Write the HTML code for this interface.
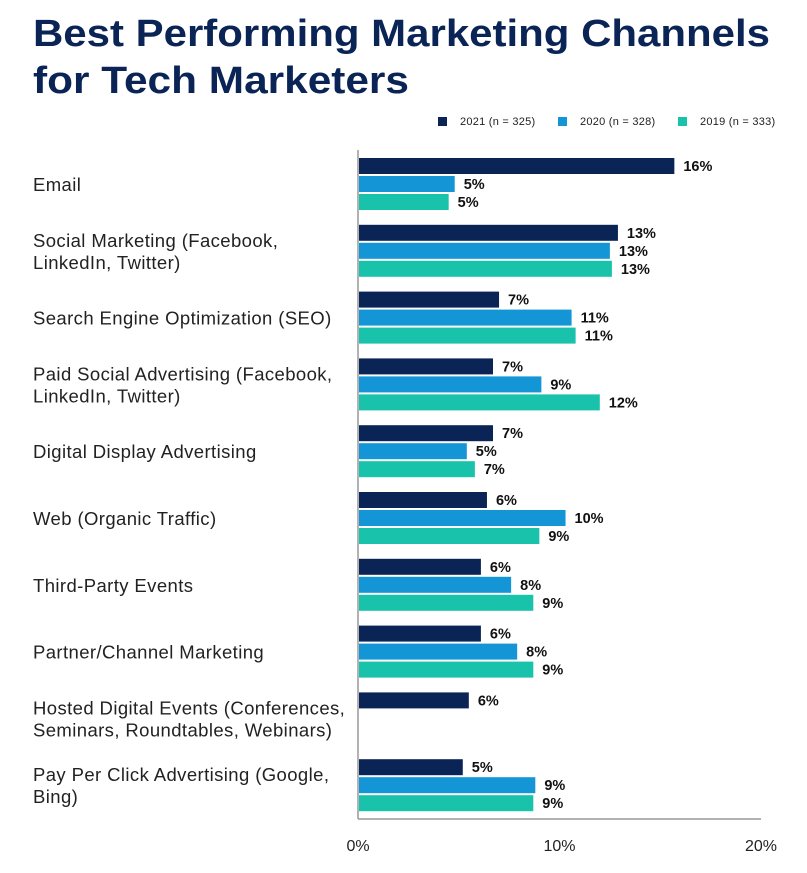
<!DOCTYPE html>
<html><head><meta charset="utf-8"><style>
body{margin:0;background:#fff;width:807px;height:868px;overflow:hidden;font-family:"Liberation Sans",sans-serif}
</style></head><body>
<svg id="c" width="807" height="868" xmlns="http://www.w3.org/2000/svg">
<text x="33" y="46" font-size="38" font-weight="bold" fill="#0b2456" textLength="737" lengthAdjust="spacingAndGlyphs">Best Performing Marketing Channels</text>
<text x="33" y="93" font-size="38" font-weight="bold" fill="#0b2456" textLength="376" lengthAdjust="spacingAndGlyphs">for Tech Marketers</text>
<g id="legend"></g>
<line x1="358" y1="150" x2="358" y2="819" stroke="#999" stroke-width="1.5"/>
<line x1="358" y1="819" x2="761" y2="819" stroke="#999" stroke-width="1.5"/>
<g id="bars"></g>
</svg>
<script>
const categories=[["Email"],["Social Marketing (Facebook,","LinkedIn, Twitter)"],["Search Engine Optimization (SEO)"],["Paid Social Advertising (Facebook,","LinkedIn, Twitter)"],["Digital Display Advertising"],["Web (Organic Traffic)"],["Third-Party Events"],["Partner/Channel Marketing"],["Hosted Digital Events (Conferences,","Seminars, Roundtables, Webinars)"],["Pay Per Click Advertising (Google,","Bing)"]];
const series2021=[15.7,12.9,7.0,6.7,6.7,6.4,6.1,6.1,5.5,5.2];
const series2020=[4.8,12.5,10.6,9.1,5.4,10.3,7.6,7.9,null,8.8];
const series2019=[4.5,12.6,10.8,12.0,5.8,9.0,8.7,8.7,null,8.7];
const labels2021=["16%","13%","7%","7%","7%","6%","6%","6%","6%","5%"];
const labels2020=["5%","13%","11%","9%","5%","10%","8%","8%",null,"9%"];
const labels2019=["5%","13%","11%","12%","7%","9%","9%","9%",null,"9%"];
const seriesNames=["2021 (n = 325)","2020 (n = 328)","2019 (n = 333)"];
const ticks=[0,10,20];
const NS="http://www.w3.org/2000/svg";
const colors=["#0b2456","#1496d6","#19c2aa"];
const x=v=>358+v*20.15;
const gy=i=>158+i*66.8;
const svg=document.getElementById('c');
function mk(t,a,p){const e=document.createElementNS(NS,t);for(const k in a)e.setAttribute(k,a[k]);(p||svg).appendChild(e);return e;}
const leg=document.getElementById('legend');
const lx=[438,558,678];
seriesNames.forEach((n,i)=>{
 const r=mk('rect',{x:lx[i],y:117,width:9,height:9,fill:colors[i]},leg);
 
 
 const t=mk('text',{x:lx[i]+22,y:125,'font-size':11,'letter-spacing':0.25,fill:'#222'},leg);
 t.textContent=n;
 
 
});
const all=[series2021,series2020,series2019];
const labs=[labels2021,labels2020,labels2019];
categories.forEach((c,i)=>{
 const y0=gy(i);
 const lines=c;
 const cy=y0+27;
 lines.forEach((l,j)=>{
  const t=mk('text',{x:33,y:cy+6+(j-(lines.length-1)/2)*22,'font-size':18.5,'letter-spacing':0.4,fill:'#222'});
  t.textContent=l;
  
  
 });
 all.forEach((s,k)=>{
  const v=s[i]; if(v==null) return;
  const by=y0+k*18;
  const r=mk('rect',{x:359,y:by,width:x(v)-359,height:16,fill:colors[k]});
  
  
  const t=mk('text',{x:x(v)+9,y:by+13,'font-size':14.5,'font-weight':'bold',fill:'#111'});
  t.textContent=labs[k][i];
  
  
 });
});
ticks.forEach(v=>{
 const t=mk('text',{x:x(v),y:851,'font-size':16,fill:'#222','text-anchor':'middle'});
 t.textContent=v+'%';
 
 
});
</script>
</body></html>
